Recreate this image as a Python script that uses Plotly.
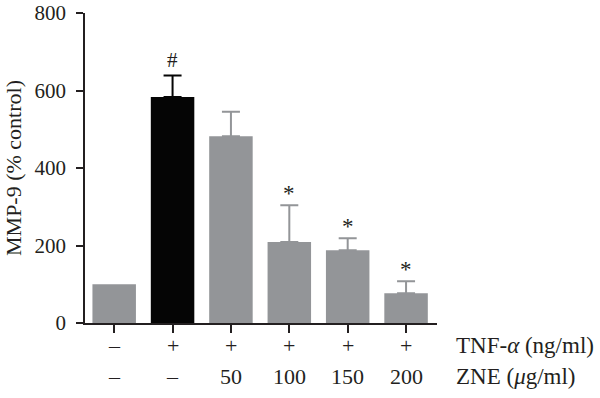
import plotly.graph_objects as go

categories = ["Control", "TNF", "ZNE50", "ZNE100", "ZNE150", "ZNE200"]
values = [100, 583, 482, 209, 188, 77]
errors = [0, 56, 63, 95, 31, 31]
bar_colors = ["#939598", "#050505", "#939598", "#939598", "#939598", "#939598"]
marks = ["", "#", "", "*", "*", "*"]
tnf_labels = ["–", "+", "+", "+", "+", "+"]
zne_labels = ["–", "–", "50", "100", "150", "200"]
y_ticks = [0, 200, 400, 600, 800]

FONT = "Liberation Serif"
AX = "#231f20"
TXT = "#231f20"

fig = go.Figure()
for i, c in enumerate(categories):
    fig.add_trace(go.Bar(
        x=[c], y=[values[i]],
        marker=dict(color=bar_colors[i], line=dict(width=0)),
        error_y=dict(type="data", array=[errors[i]], arrayminus=[0], symmetric=False,
                     visible=errors[i] > 0, color=bar_colors[i], thickness=2, width=9),
        showlegend=False,
    ))

annotations = []
for i, c in enumerate(categories):
    if marks[i]:
        annotations.append(dict(x=c, y=values[i] + errors[i], xref="x", yref="y",
                                text=marks[i], showarrow=False, yanchor="bottom",
                                yshift=1 if marks[i] == "#" else -3,
                                font=dict(family=FONT, size=21 if marks[i] == "#" else 23,
                                          color=TXT)))
    annotations.append(dict(x=c, y=-0.071, xref="x", yref="paper", text=tnf_labels[i],
                            showarrow=False, yanchor="middle",
                            font=dict(family=FONT, size=22, color=TXT)))
    annotations.append(dict(x=c, y=-0.172, xref="x", yref="paper", text=zne_labels[i],
                            showarrow=False, yanchor="middle",
                            font=dict(family=FONT, size=22, color=TXT)))
annotations.append(dict(x=1.048, y=-0.071, xref="paper", yref="paper",
                        text="TNF-<i>α</i> (ng/ml)", showarrow=False, xanchor="left",
                        yanchor="middle", font=dict(family=FONT, size=23, color=TXT)))
annotations.append(dict(x=1.048, y=-0.172, xref="paper", yref="paper",
                        text="ZNE (<i>μ</i>g/ml)", showarrow=False, xanchor="left",
                        yanchor="middle", font=dict(family=FONT, size=23, color=TXT)))

fig.update_layout(
    width=600, height=398,
    margin=dict(l=85, r=163, t=13, b=75),
    plot_bgcolor="white", paper_bgcolor="white",
    bargap=0.255,
    font=dict(family=FONT, size=21, color=TXT),
    annotations=annotations,
    xaxis=dict(type="category", range=[-0.5, 5.53], showline=True, linecolor=AX, linewidth=1.5,
               ticks="outside", ticklen=8, tickwidth=1.5, tickcolor=AX, automargin=False,
               showticklabels=False, showgrid=False, zeroline=False, fixedrange=True),
    yaxis=dict(range=[0, 800], tickvals=y_ticks, showline=True, linecolor=AX, linewidth=1.5,
               ticks="outside", ticklen=7, tickwidth=1.5, tickcolor=AX, automargin=False,
               showgrid=False, zeroline=False, ticklabelstandoff=6, ticklabeloverflow="allow",
               tickfont=dict(family=FONT, size=21, color=TXT),
               title=dict(text="MMP-9 (% control)", standoff=7,
                          font=dict(family=FONT, size=22, color=TXT))),
)

# remove the browser's default 8px body margin so the figure fills the window
fig.write_html("out.html", config={"displayModeBar": False},
               post_script="document.body.style.margin='0px';")
